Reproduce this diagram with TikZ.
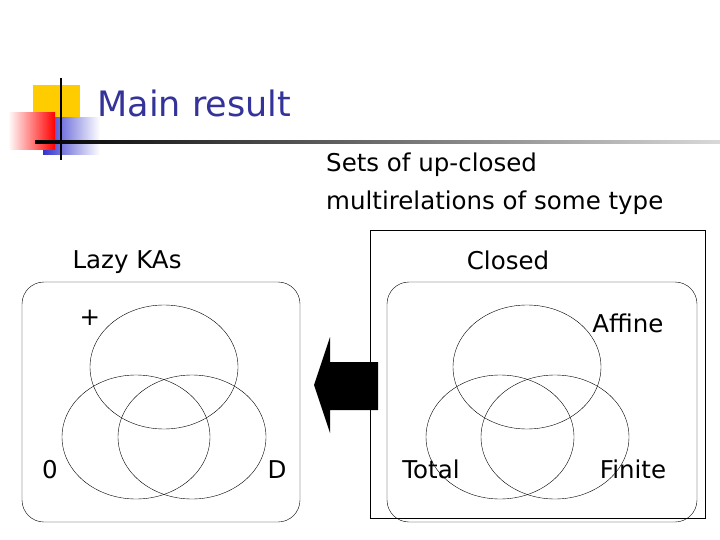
\documentclass[tikz,border=0pt]{standalone}
\usepackage{fontspec}
\setmainfont{DejaVu Sans}
\usetikzlibrary{shapes.geometric}
\definecolor{titleColor}{RGB}{51,51,153}
\definecolor{logoYellow}{RGB}{255,204,0}
\definecolor{logoBlue}{RGB}{51,51,204}

\tikzset{
  venn/.style={draw, ellipse, minimum width=148pt, minimum height=124pt},
  txt/.style={font=\fontsize{24.5}{38}\selectfont},
  box/.style={draw, rounded corners=22pt}
}

\begin{document}
\begin{tikzpicture}[x=1pt,y=-1pt]
  \useasboundingbox (0,0) rectangle (720,540);
  % Logo and title
  \fill[logoYellow] (33,85) rectangle (80,130);
  \shade[left color=logoBlue, right color=white] (43,118) rectangle (100,155);
  \shade[left color=white, right color=red] (8,113) rectangle (55,150);
  \draw[line width=1.5pt] (61,78) -- (61,160);
  \shade[left color=black, right color=white!85!black] (35,141) rectangle (720,144);
  \node[anchor=west, text=titleColor, font=\fontsize{35}{40}\selectfont] (title) at (94,103) {Main result};
  \node[anchor=west, txt, align=left, inner sep=0pt] (caption) at (326,184) {Sets of up-closed\\multirelations of some type};
  % Lazy KAs
  \node[txt] (lazy) at (127,262) {Lazy KAs};
  \draw[box] (22,282) rectangle (300,522);
  \node[venn] (plus) at (164,367) {};
  \node[venn] (zero) at (136,437) {};
  \node[venn] (dom) at (192,437) {};
  \node[txt] (plusLab) at (90,318) {+};
  \node[txt] (zeroLab) at (50,470) {0};
  \node[txt] (domLab) at (277,470) {D};
  % Arrow
  \fill (378,362) -- (330,362) -- (330,337) -- (314,385) -- (330,433) -- (330,410) -- (378,410) -- cycle;
  % Closed
  \draw (370,230) rectangle (705,518);
  \node[txt] (closed) at (508,260) {Closed};
  \draw[box] (387,282) rectangle (697,522);
  \node[venn] (affine) at (527,367) {};
  \node[venn] (total) at (500,437) {};
  \node[venn] (finite) at (555,437) {};
  \node[txt] (affineLab) at (628,323) {Affine};
  \node[txt] (totalLab) at (431,469) {Total};
  \node[txt] (finiteLab) at (633,469) {Finite};
\end{tikzpicture}
\end{document}
